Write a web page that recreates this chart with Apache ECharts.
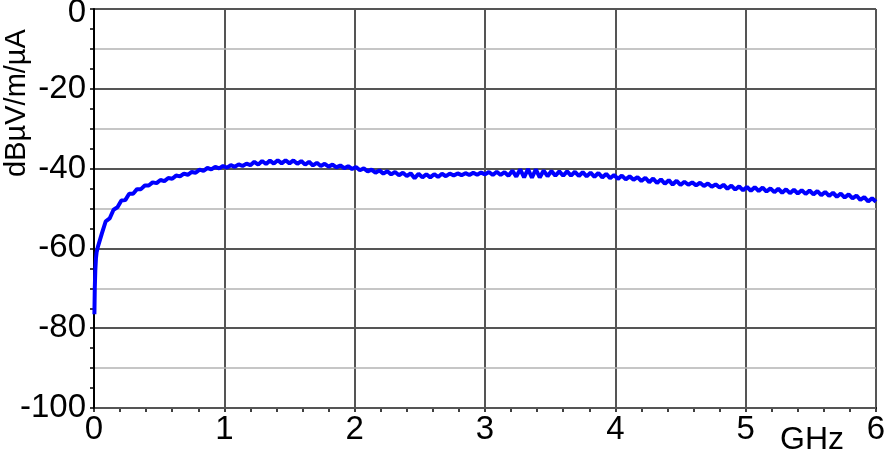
<!DOCTYPE html>
<html>
<head>
<meta charset="utf-8">
<script src="https://cdn.jsdelivr.net/npm/echarts@6/dist/echarts.min.js"></script>
<style>
html,body{margin:0;padding:0;background:#fff;}
#chart{width:886px;height:461px;}
</style>
</head>
<body>
<div id="chart"></div>
<script>
const xTicks = [0, 1, 2, 3, 4, 5, 6];
const yTicks = [-100, -80, -60, -40, -20, 0];
const xUnit = 'GHz';
const yUnit = 'dBµV/m/µA';

const freqGHz = [
  0.003, 0.006, 0.01, 0.015, 0.02,
  0.03, 0.06, 0.09, 0.12, 0.15, 0.18, 0.21, 0.24, 0.27, 0.30,
  0.33, 0.36, 0.39, 0.42, 0.45, 0.48, 0.51, 0.54, 0.57, 0.60,
  0.63, 0.66, 0.69, 0.72, 0.75, 0.78, 0.81, 0.84, 0.87, 0.90,
  0.93, 0.96, 0.99, 1.02, 1.05, 1.08, 1.11, 1.14, 1.17, 1.20,
  1.23, 1.26, 1.29, 1.32, 1.35, 1.38, 1.41, 1.44, 1.47, 1.50,
  1.53, 1.56, 1.59, 1.62, 1.65, 1.68, 1.71, 1.74, 1.77, 1.80,
  1.83, 1.86, 1.89, 1.92, 1.95, 1.98, 2.01, 2.04, 2.07, 2.10,
  2.13, 2.16, 2.19, 2.22, 2.25, 2.28, 2.31, 2.34, 2.37, 2.40,
  2.43, 2.46, 2.49, 2.52, 2.55, 2.58, 2.61, 2.64, 2.67, 2.70,
  2.73, 2.76, 2.79, 2.82, 2.85, 2.88, 2.91, 2.94, 2.97, 3.00,
  3.03, 3.06, 3.09, 3.12, 3.15, 3.18, 3.21, 3.24, 3.27, 3.30,
  3.33, 3.36, 3.39, 3.42, 3.45, 3.48, 3.51, 3.54, 3.57, 3.60,
  3.63, 3.66, 3.69, 3.72, 3.75, 3.78, 3.81, 3.84, 3.87, 3.90,
  3.93, 3.96, 3.99, 4.02, 4.05, 4.08, 4.11, 4.14, 4.17, 4.20,
  4.23, 4.26, 4.29, 4.32, 4.35, 4.38, 4.41, 4.44, 4.47, 4.50,
  4.53, 4.56, 4.59, 4.62, 4.65, 4.68, 4.71, 4.74, 4.77, 4.80,
  4.83, 4.86, 4.89, 4.92, 4.95, 4.98, 5.01, 5.04, 5.07, 5.10,
  5.13, 5.16, 5.19, 5.22, 5.25, 5.28, 5.31, 5.34, 5.37, 5.40,
  5.43, 5.46, 5.49, 5.52, 5.55, 5.58, 5.61, 5.64, 5.67, 5.70,
  5.73, 5.76, 5.79, 5.82, 5.85, 5.88, 5.91, 5.94, 5.97, 6.00
];

const levelDb = [
  -76.5, -70.0, -65.5, -62.5, -61.0,
  -59.6, -56.3, -53.2, -52.5, -50.3, -49.7, -48.0, -47.9, -46.3, -46.3,
  -45.15, -45.15, -44.25, -44.25, -43.45, -43.65, -42.85, -43.15, -42.35, -42.55,
  -41.75, -41.95, -41.25, -41.55, -40.85, -41.05, -40.25, -40.55, -39.85, -40.2,
  -39.55, -39.95, -39.35, -39.75, -39.15, -39.55, -38.95, -39.35, -38.75, -39.15,
  -38.3, -39.0, -38.1, -38.85, -38.0, -38.75, -37.9, -38.7, -37.9, -38.7,
  -37.95, -38.8, -38.1, -39.0, -38.3, -39.2, -38.55, -39.35, -38.8, -39.5,
  -39.0, -39.7, -39.2, -39.9, -39.4, -40.1, -39.6, -40.4, -39.95, -40.7,
  -40.25, -41.05, -40.45, -41.25, -40.65, -41.45, -40.85, -41.65, -41.05, -41.85,
  -41.2, -42.4, -41.3, -42.2, -41.4, -42.2, -41.4, -42.1, -41.3, -41.9,
  -41.25, -41.75, -41.2, -41.65, -41.15, -41.6, -41.05, -41.55, -41.0, -41.45,
  -40.85, -41.6, -40.8, -41.6, -40.9, -41.8, -40.5, -42.0, -40.2, -42.2,
  -40.1, -42.3, -40.2, -42.2, -40.5, -41.9, -40.6, -41.8, -40.7, -41.8,
  -40.7, -41.75, -40.8, -41.85, -40.9, -41.95, -41.0, -42.05, -41.1, -42.2,
  -41.35, -42.4, -41.6, -42.6, -41.75, -42.7, -41.95, -42.8, -42.15, -43.1,
  -42.3, -43.4, -42.5, -43.6, -42.7, -43.8, -42.9, -44.0, -43.05, -44.1,
  -43.3, -44.05, -43.45, -44.2, -43.55, -44.35, -43.75, -44.55, -43.95, -44.75,
  -44.05, -45.05, -44.25, -45.25, -44.45, -45.45, -44.6, -45.55, -44.65, -45.6,
  -44.75, -45.75, -44.95, -45.9, -45.05, -46.05, -45.2, -46.15, -45.3, -46.25,
  -45.4, -46.35, -45.5, -46.45, -45.65, -46.65, -45.85, -46.85, -46.05, -47.05,
  -46.25, -47.25, -46.45, -47.45, -46.75, -47.85, -47.15, -48.25, -47.45, -48.3
];

const seriesData = freqGHz.map((f, i) => [f, levelDb[i]]);

const labelFont = 'Liberation Sans, Arial, sans-serif';
const chart = echarts.init(document.getElementById('chart'), null, { renderer: 'canvas' });

chart.setOption({
  animation: false,
  backgroundColor: '#ffffff',
  grid: { left: 94, right: 10, top: 9, bottom: 53, containLabel: false, outerBoundsMode: 'none' },
  xAxis: {
    type: 'value',
    min: xTicks[0],
    max: xTicks[xTicks.length - 1],
    interval: 1,
    axisLine: { show: true, onZero: false, lineStyle: { color: '#000', width: 2 } },
    axisTick: { show: true, inside: false, length: 4, lineStyle: { color: '#000', width: 1.5 } },
    minorTick: { show: true, splitNumber: 5, length: 4, lineStyle: { color: '#000', width: 1.5 } },
    axisLabel: { color: '#000', fontSize: 33, fontFamily: labelFont, margin: 5 },
    splitLine: { show: true, lineStyle: { color: '#555', width: 2 } }
  },
  yAxis: [
    {
      type: 'value',
      min: yTicks[0],
      max: yTicks[yTicks.length - 1],
      interval: 20,
      axisLine: { show: true, onZero: false, lineStyle: { color: '#000', width: 2 } },
      axisTick: { show: true, inside: false, length: 4, lineStyle: { color: '#000', width: 1.5 } },
      minorTick: { show: true, splitNumber: 4, length: 4, lineStyle: { color: '#000', width: 1.5 } },
      axisLabel: {
        color: '#000', fontSize: 33, fontFamily: labelFont, margin: 8,
        formatter: function (v) { return v === yTicks[yTicks.length - 1] ? '{top|' + v + '}' : String(v); },
        rich: { top: { fontSize: 33, fontFamily: labelFont, color: '#000', padding: [7, 0, 0, 0] } }
      },
      splitLine: { show: true, lineStyle: { color: '#555', width: 2 } },
      z: 3
    },
    {
      type: 'value',
      min: yTicks[0],
      max: yTicks[yTicks.length - 1],
      interval: 20,
      position: 'left',
      axisLine: { show: false },
      axisTick: { show: false },
      axisLabel: { show: false },
      splitLine: { show: false },
      minorTick: { show: false, splitNumber: 2 },
      minorSplitLine: { show: true, lineStyle: { color: '#b4b4b4', width: 1.5 } },
      z: 1
    }
  ],
  graphic: [
    {
      type: 'text',
      x: 812, y: 440,
      style: { text: xUnit, fill: '#000', fontSize: 32, fontFamily: labelFont, align: 'center', verticalAlign: 'middle' }
    },
    {
      type: 'text',
      x: 17, y: 103,
      rotation: Math.PI / 2,
      style: { text: yUnit, fill: '#000', fontSize: 29, fontFamily: labelFont, align: 'center', verticalAlign: 'middle' }
    }
  ],
  series: [
    {
      type: 'line',
      xAxisIndex: 0,
      yAxisIndex: 0,
      data: seriesData,
      showSymbol: false,
      smooth: false,
      lineStyle: { color: '#0000ff', width: 4 },
      z: 5
    }
  ]
});
</script>
</body>
</html>
